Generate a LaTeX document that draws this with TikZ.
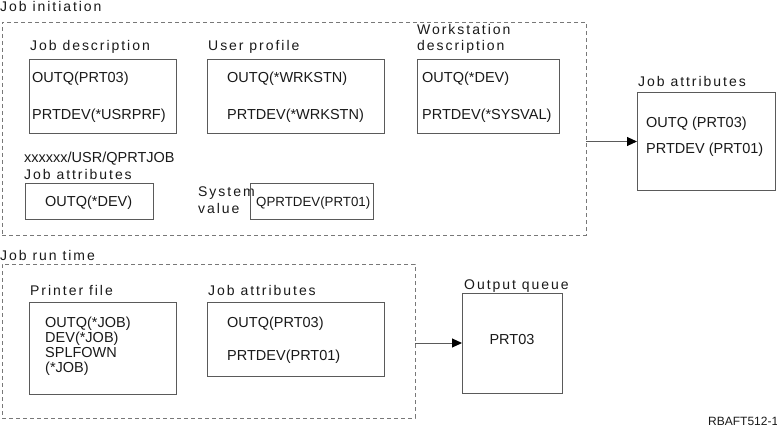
\documentclass[tikz,border=0pt]{standalone}
\usepackage{fontspec}
\setmainfont{Liberation Sans}
\newfontfamily\lblfont[LetterSpace=14]{Liberation Sans}
\usetikzlibrary{arrows.meta}
\definecolor{boxline}{RGB}{90,90,90}
\definecolor{dashline}{RGB}{120,120,120}
\definecolor{txt}{RGB}{25,25,25}
\tikzset{
  box/.style={draw=boxline, line width=1pt, inner sep=0pt, outer sep=0pt, anchor=north west},
  group/.style={draw=dashline, line width=0.9pt, dash pattern=on 4pt off 3pt, inner sep=0pt, outer sep=0pt, anchor=north west},
  lbl/.style={anchor=base west, inner sep=0pt, text=txt, font=\lblfont\fontsize{14}{16}\selectfont},
  val/.style={anchor=base west, inner sep=0pt, text=txt, font=\fontsize{14.5}{17}\selectfont},
  flow/.style={draw=boxline, line width=1pt, -{Triangle[length=10pt,width=9pt,color=black]}},
}
\begin{document}
\begin{tikzpicture}[x=1pt,y=-1pt]
\useasboundingbox (0,0) rectangle (777,428);
% ---- Job initiation group
\node[lbl] (tinit) at (0,12) {Job initiation};
\node[group, minimum width=584pt, minimum height=213pt] (init) at (2,22) {};
\node[lbl] (tjd) at (30,51) {Job description};
\node[box, minimum width=147pt, minimum height=73pt] (jd) at (29,60) {};
\node[val] (jd1) at (32,83) {OUTQ(PRT03)};
\node[val] (jd2) at (32,119) {PRTDEV(*USRPRF)};
\node[lbl] (tup) at (208,51) {User profile};
\node[box, minimum width=177pt, minimum height=73pt] (up) at (207,60) {};
\node[val] (up1) at (227,83) {OUTQ(*WRKSTN)};
\node[val] (up2) at (227,119) {PRTDEV(*WRKSTN)};
\node[lbl] (tws1) at (417,35) {Workstation};
\node[lbl] (tws2) at (417,51) {description};
\node[box, minimum width=142pt, minimum height=73pt] (ws) at (417,60) {};
\node[val] (ws1) at (422,83) {OUTQ(*DEV)};
\node[val] (ws2) at (422,119) {PRTDEV(*SYSVAL)};
\node[val] (tqp) at (24,162) {xxxxxx/USR/QPRTJOB};
\node[lbl] (tja1) at (24,179) {Job attributes};
\node[box, minimum width=128pt, minimum height=36pt] (ja1) at (25,183) {};
\node[val] (ja1a) at (45,206) {OUTQ(*DEV)};
\node[lbl] (tsv1) at (198,196) {System};
\node[lbl] (tsv2) at (198,213) {value};
\node[box, minimum width=123pt, minimum height=36pt] (sv) at (250,183) {};
\node[val, font=\fontsize{13.3}{16}\selectfont] (sva) at (256,206) {QPRTDEV(PRT01)};
% ---- resulting job attributes
\node[lbl] (tjar) at (638,87) {Job attributes};
\node[box, minimum width=138pt, minimum height=97pt] (jar) at (637,93) {};
\node[val] (jar1) at (646,128) {OUTQ (PRT03)};
\node[val] (jar2) at (646,153) {PRTDEV (PRT01)};
\draw[flow] (init.east |- jar.west) -- (jar.west);
% ---- Job run time group
\node[lbl] (trun) at (0,260) {Job run time};
\node[group, minimum width=413pt, minimum height=154pt] (run) at (2,264) {};
\node[lbl] (tpf) at (30,295) {Printer file};
\node[box, minimum width=147pt, minimum height=92pt] (pf) at (29,302) {};
\node[val] (pf1) at (45,327) {OUTQ(*JOB)};
\node[val] (pf2) at (45,342) {DEV(*JOB)};
\node[val] (pf3) at (45,357) {SPLFOWN};
\node[val] (pf4) at (45,372) {(*JOB)};
\node[lbl] (tja2) at (208,295) {Job attributes};
\node[box, minimum width=177pt, minimum height=74pt] (ja2) at (207,302) {};
\node[val] (ja2a) at (227,327) {OUTQ(PRT03)};
\node[val] (ja2b) at (227,360) {PRTDEV(PRT01)};
\node[lbl] (toq) at (464,289) {Output queue};
\node[box, minimum width=100pt, minimum height=100pt] (oq) at (462,293) {};
\node[anchor=center, inner sep=0pt, text=txt, font=\fontsize{14.5}{17}\selectfont] (oqa) at (512,340) {PRT03};
\draw[flow] (run.east |- oq.west) -- (oq.west);
\node[anchor=base west, inner sep=0pt, text=txt, font=\fontsize{12}{14}\selectfont] (fig) at (708,425) {RBAFT512-1};
\end{tikzpicture}
\end{document}
